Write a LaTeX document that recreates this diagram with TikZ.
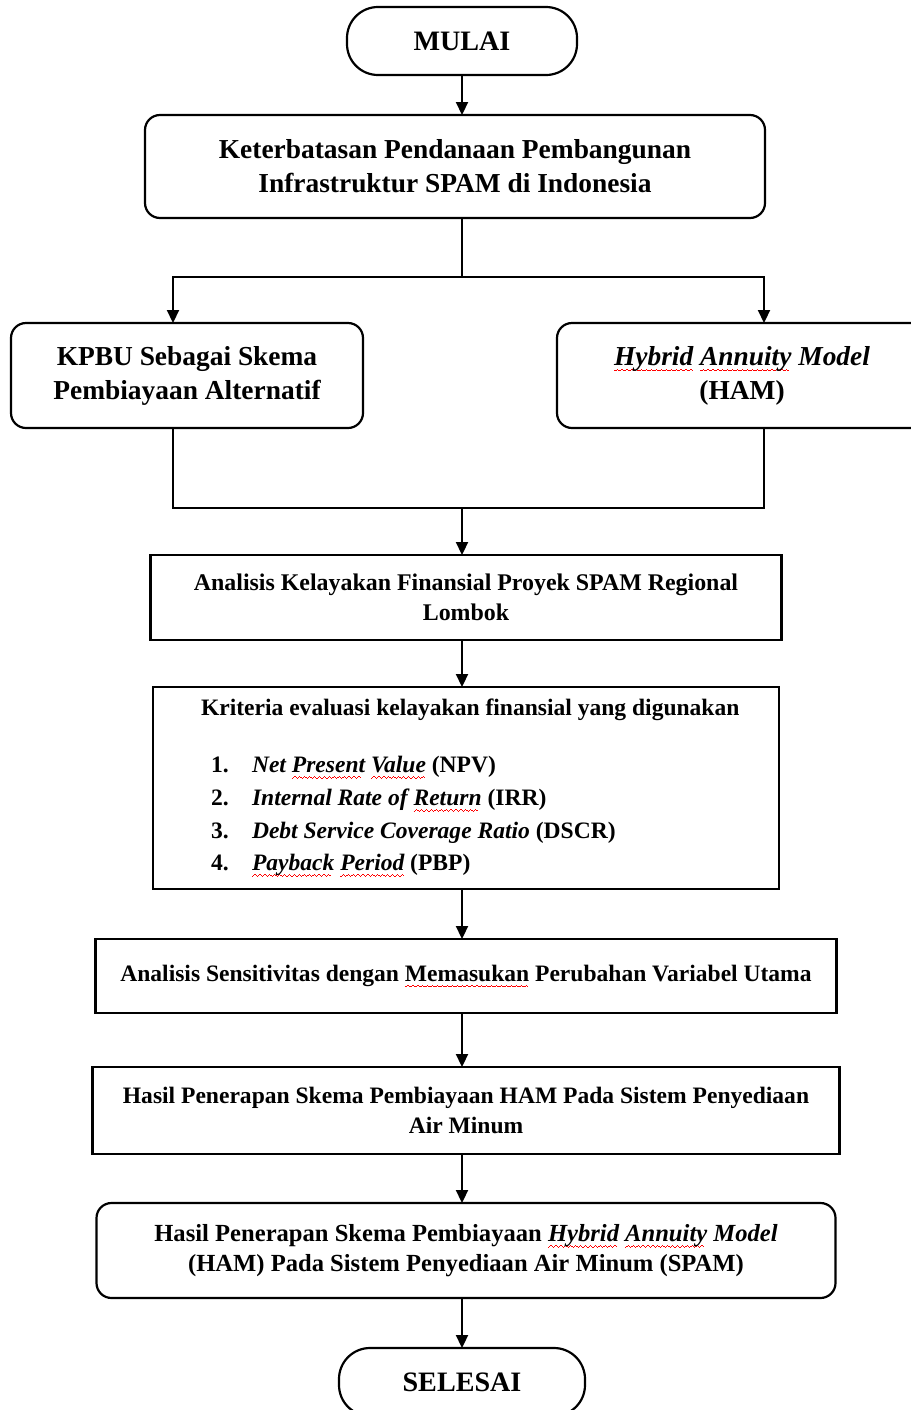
\documentclass[tikz,border=0pt]{standalone}
\usepackage{fontspec}
\setmainfont{Liberation Serif}
\usetikzlibrary{positioning,arrows.meta}

\newsavebox\wavebox
\newcommand\redwave[1]{\sbox\wavebox{#1}\rlap{\color{red}\leaders\hbox{\rule[-3.6pt]{0.7pt}{0.5pt}\rule[-3.1pt]{0.7pt}{0.5pt}\rule[-2.6pt]{0.7pt}{0.5pt}\rule[-3.1pt]{0.7pt}{0.5pt}}\hskip\wd\wavebox}\usebox\wavebox}

\begin{document}
\begin{tikzpicture}[>={Triangle[length=0.26cm,width=0.24cm]}, line width=1.25pt,
		term/.style={draw, outer sep=0pt, rounded corners=0.62cm, minimum width=4.6cm, minimum height=1.36cm, font=\fontsize{16}{19}\selectfont\bfseries},
		rbox/.style={draw, outer sep=0pt, rounded corners=0.3cm, align=center, font=\fontsize{15.6}{19.4}\selectfont\bfseries},
		pbox/.style={draw, outer sep=0pt, align=center, font=\fontsize{13.4}{17}\selectfont\bfseries}]
		\fill[white] (0,0) rectangle (18.2,-28.2);
		\useasboundingbox (0,0) rectangle (18.2,-28.2);

		\node[term] (mulai) at (9.24,-0.82) {MULAI};
		\node[rbox, minimum width=12.4cm, minimum height=2.06cm] (keter) [below=0.8cm of mulai, xshift=-0.14cm] {Keterbatasan Pendanaan Pembangunan\\Infrastruktur SPAM di Indonesia};
		\coordinate (split) at ([yshift=-1.18cm]keter.south -| mulai.south);
		\node[rbox, minimum width=7.04cm, minimum height=2.1cm] (kpbu) [below=2.1cm of keter, xshift=-5.36cm] {KPBU Sebagai Skema\\Pembiayaan Alternatif};
		\node[rbox, minimum width=7.4cm, minimum height=2.1cm] (ham) [below=2.1cm of keter, xshift=5.74cm] {\textit{\redwave{Hybrid} \redwave{Annuity} Model}\\(HAM)};
		\coordinate (merge) at ([yshift=-1.6cm]kpbu.south -| mulai.south);
		\node[pbox, minimum width=12.62cm, minimum height=1.7cm, font=\fontsize{13.6}{17}\selectfont\bfseries] (analisis) [below=0.94cm of merge, xshift=0.08cm] {Analisis Kelayakan Finansial Proyek SPAM Regional\\Lombok};
		\node[pbox, minimum width=12.52cm, minimum height=4.04cm, text width=12cm, align=flush left, font=\fontsize{13.4}{18.6}\selectfont\bfseries] (kriteria) [below=0.94cm of analisis] {%
			\hspace*{0.7cm}Kriteria evaluasi kelayakan finansial yang digunakan\\[0.49cm]
			\hspace*{0.9cm}\makebox[0.82cm][l]{1.}\textit{Net \redwave{Present} \redwave{Value}} (NPV)\\
			\hspace*{0.9cm}\makebox[0.82cm][l]{2.}\textit{Internal Rate of \redwave{Return}} (IRR)\\
			\hspace*{0.9cm}\makebox[0.82cm][l]{3.}\textit{Debt Service Coverage Ratio} (DSCR)\\
			\hspace*{0.9cm}\makebox[0.82cm][l]{4.}\textit{\redwave{Payback} \redwave{Period}} (PBP)};
		\node[pbox, minimum width=14.82cm, minimum height=1.48cm] (sens) [below=1cm of kriteria] {Analisis Sensitivitas dengan \redwave{Memasukan} Perubahan Variabel Utama};
		\node[pbox, minimum width=14.94cm, minimum height=1.74cm] (hasilham) [below=1.08cm of sens] {Hasil Penerapan Skema Pembiayaan HAM Pada Sistem Penyediaan\\Air Minum};
		\node[pbox, rounded corners=0.3cm, minimum width=14.78cm, minimum height=1.9cm, font=\fontsize{14}{17}\selectfont\bfseries] (hasil) [below=0.98cm of hasilham] {Hasil Penerapan Skema Pembiayaan \textit{\redwave{Hybrid} \redwave{Annuity} Model}\\(HAM) Pada Sistem Penyediaan Air Minum (SPAM)};
		\node[term, minimum width=4.92cm] (selesai) [below=1cm of hasil.south -| mulai.south] {SELESAI};

		\draw[->] (mulai) -- (mulai |- keter.north);
		\draw (keter.south -| split) -- (split);
		\draw[->] (split) -| ([xshift=-0.28cm]kpbu.north);
		\draw[->] (split) -| ([xshift=0.44cm]ham.north);
		\draw ([xshift=-0.28cm]kpbu.south) |- (merge) -| ([xshift=0.44cm]ham.south);
		\draw[->] (merge) -- (merge |- analisis.north);
		\draw[->] (analisis.south -| merge) -- (kriteria.north -| merge);
		\draw[->] (kriteria.south -| merge) -- (sens.north -| merge);
		\draw[->] (sens.south -| merge) -- (hasilham.north -| merge);
		\draw[->] (hasilham.south -| merge) -- (hasil.north -| merge);
		\draw[->] (hasil.south -| merge) -- (selesai);

	\end{tikzpicture}
\end{document}
